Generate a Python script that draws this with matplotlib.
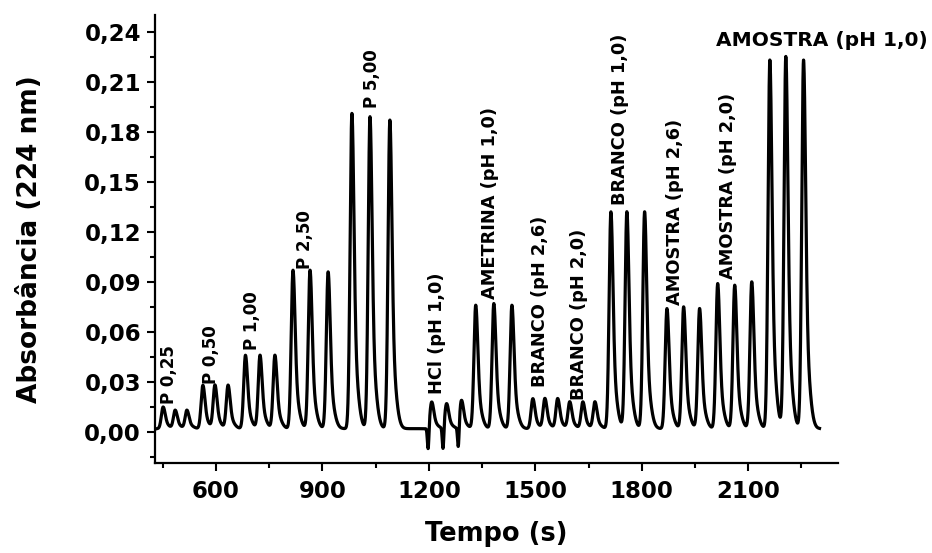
import numpy as np
import matplotlib
matplotlib.use("Agg")
import matplotlib.pyplot as plt
from matplotlib.ticker import MultipleLocator, FuncFormatter

# peak groups: times (s) and heights above baseline
labels = ["P 0,25", "P 0,50", "P 1,00", "P 2,50", "P 5,00",
          "HCl (pH 1,0)", "AMETRINA (pH 1,0)", "BRANCO (pH 2,6)",
          "BRANCO (pH 2,0)", "BRANCO (pH 1,0)", "AMOSTRA (pH 2,6)",
          "AMOSTRA (pH 2,0)", "AMOSTRA (pH 1,0)"]

peak_times = [
    [451, 485, 518],
    [563, 597, 634],
    [683, 724, 766],
    [817, 865, 916],
    [983, 1034, 1090],
    [1208, 1250, 1292],
    [1332, 1383, 1434],
    [1493, 1527, 1563],
    [1597, 1634, 1668],
    [1713, 1758, 1808],
    [1871, 1918, 1963],
    [2014, 2062, 2110],
    [2161, 2206, 2256],
]

peak_heights = [
    [0.013, 0.011, 0.011],
    [0.026, 0.026, 0.026],
    [0.044, 0.044, 0.044],
    [0.095, 0.095, 0.094],
    [0.189, 0.187, 0.185],
    [0.016, 0.015, 0.017],
    [0.074, 0.075, 0.074],
    [0.018, 0.018, 0.018],
    [0.016, 0.016, 0.016],
    [0.130, 0.130, 0.130],
    [0.072, 0.073, 0.072],
    [0.087, 0.086, 0.088],
    [0.221, 0.223, 0.221],
]

# negative schlieren dips before the HCl peaks
dip_times = [1198, 1240, 1283]
dip_depths = [-0.014, -0.014, -0.014]

baseline = 0.002
t_start, t_end = 434, 2301


def peak_shape(dt):
    # fast rise, steep fall with a slower tail
    left = np.exp(-0.5 * (dt / 5.0) ** 2)
    right = 0.7 * np.exp(-0.5 * (dt / 5.5) ** 2) + 0.3 * np.exp(-0.5 * (dt / 13.0) ** 2)
    return np.where(dt < 0, left, right)


t = np.linspace(t_start, t_end, 6000)
signal = np.full_like(t, baseline)
for times, heights in zip(peak_times, peak_heights):
    for tp, h in zip(times, heights):
        signal += h * peak_shape(t - tp)
for td, d in zip(dip_times, dip_depths):
    signal += d * np.exp(-0.5 * ((t - td) / 2.2) ** 2)

plt.rcParams['font.family'] = ['DejaVu Sans']
plt.rcParams['font.weight'] = 'bold'

fig = plt.figure(figsize=(9.32, 5.53), dpi=100)
ax = fig.add_axes([0.1663, 0.1627, 0.7328, 0.8102])
ax.plot(t, signal, color='black', lw=2.3)

ax.set_xlim(428, 2353)
ax.set_ylim(-0.0186, 0.250)

ax.xaxis.set_major_locator(MultipleLocator(300))
ax.xaxis.set_minor_locator(MultipleLocator(150))
ax.yaxis.set_major_locator(MultipleLocator(0.03))
ax.yaxis.set_minor_locator(MultipleLocator(0.015))
ax.yaxis.set_major_formatter(FuncFormatter(lambda v, p: f"{v:.2f}".replace('.', ',')))
ax.xaxis.set_major_formatter(FuncFormatter(lambda v, p: f"{v:.0f}"))

for s in ['top', 'right']:
    ax.spines[s].set_visible(False)
for s in ['left', 'bottom']:
    ax.spines[s].set_linewidth(1.6)

ax.tick_params(which='major', direction='out', length=6, width=1.5, labelsize=16.5)
ax.tick_params(axis='x', which='major', pad=6)
ax.tick_params(axis='y', which='major', pad=4)
ax.tick_params(which='minor', direction='out', length=3.5, width=1.5)
for lab in ax.get_xticklabels() + ax.get_yticklabels():
    lab.set_fontweight('bold')

ax.set_xlabel("Tempo (s)", fontsize=18.5, fontweight='bold', labelpad=13)
ax.set_ylabel("Absorbância (224 nm)", fontsize=19, fontweight='bold', labelpad=30)

# label anchors (time, absorbance) for the rotated annotations
label_pos = [(468, 0.017), (586, 0.029), (701, 0.049), (851, 0.098),
             (1039, 0.194), (1222, 0.023), (1372, 0.080), (1513, 0.027),
             (1622, 0.019), (1740, 0.136), (1893, 0.076), (2042, 0.092)]
for lab, (lx, ly) in zip(labels[:-1], label_pos):
    size = 12 if lab.startswith("P ") else 12.8
    ax.text(lx, ly, lab, rotation=90, ha='center', va='bottom',
            fontsize=size, fontweight='bold')

ax.text(2307, 0.235, labels[-1], ha='center', va='center',
        fontsize=14.5, fontweight='bold', clip_on=False)

fig.savefig("out.png", dpi=100)
